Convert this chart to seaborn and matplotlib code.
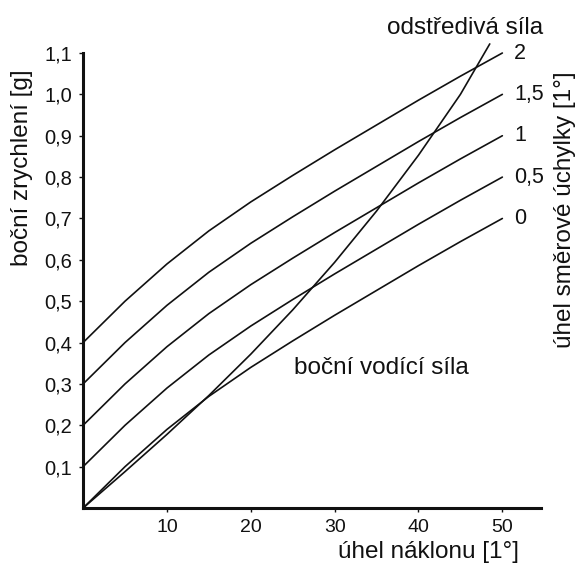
import matplotlib as mpl
mpl.use('Agg')
import numpy as np
import pandas as pd
import seaborn as sns
from matplotlib import pyplot as plt

# lean angle [deg]
ANGLES = [0, 5, 10, 15, 20, 25, 30, 35, 40, 45, 50]

# lateral guiding force for each steering deflection angle
SIDE_0 = [0.00, 0.10, 0.19, 0.27, 0.34, 0.404, 0.466, 0.526, 0.586, 0.644, 0.70]
SIDE_05 = [0.10, 0.20, 0.29, 0.37, 0.44, 0.504, 0.566, 0.626, 0.686, 0.744, 0.80]
SIDE_1 = [0.20, 0.30, 0.39, 0.47, 0.54, 0.604, 0.666, 0.726, 0.786, 0.844, 0.90]
SIDE_15 = [0.30, 0.40, 0.49, 0.57, 0.64, 0.704, 0.766, 0.826, 0.886, 0.944, 1.00]
SIDE_2 = [0.40, 0.50, 0.59, 0.67, 0.74, 0.804, 0.866, 0.926, 0.986, 1.044, 1.10]
CURVE_LABELS = ['0', '0,5', '1', '1,5', '2']

# centrifugal force
CF_ANGLES = [0, 5, 10, 15, 20, 25, 30, 35, 40, 45, 48.5]
CF_VALUES = [0.00, 0.088, 0.178, 0.272, 0.372, 0.479, 0.594, 0.718, 0.853, 1.00, 1.122]

X_TICKS = [10, 20, 30, 40, 50]
Y_TICKS = [0.1, 0.2, 0.3, 0.4, 0.5, 0.6, 0.7, 0.8, 0.9, 1.0, 1.1]


def main():
    sns.set_style('ticks')
    plt.rcParams['font.family'] = ['Liberation Sans', 'DejaVu Sans']
    for key in ['text.color', 'axes.labelcolor', 'xtick.color', 'ytick.color', 'axes.edgecolor']:
        plt.rcParams[key] = '#111111'

    rows = []
    for label, vals in zip(CURVE_LABELS, [SIDE_0, SIDE_05, SIDE_1, SIDE_15, SIDE_2]):
        for a, v in zip(ANGLES, vals):
            rows.append({'ANGLE': a, 'G': v, 'CURVE': label})
    df = pd.DataFrame(rows)
    cf = pd.DataFrame({'ANGLE': CF_ANGLES, 'G': CF_VALUES})

    fig = plt.figure(figsize=(5.81, 5.67), dpi=100)
    ax = fig.add_axes([0.143, 0.104, 0.788, 0.8025])

    sns.lineplot(data=df, x='ANGLE', y='G', hue='CURVE', palette=['#111111'] * 5,
                 linewidth=1.2, legend=False, ax=ax)
    sns.lineplot(data=cf, x='ANGLE', y='G', color='#111111', linewidth=1.2, ax=ax)
    for line in ax.lines:
        line.set_clip_on(False)

    ax.set_xlim(0, 54.6)
    ax.set_ylim(0, 1.1)
    ax.set_xticks(X_TICKS)
    ax.set_yticks(Y_TICKS)
    ax.set_xticklabels([str(t) for t in X_TICKS])
    ax.set_yticklabels([f'{t:.1f}'.replace('.', ',') for t in Y_TICKS])
    ax.tick_params(labelsize=14.5, length=3, width=1, pad=5)
    ax.tick_params(axis='x', labelsize=14, pad=5)
    sns.despine(ax=ax)
    for s in ['left', 'bottom']:
        ax.spines[s].set_linewidth(2.2)
    ax.set_xlabel('')
    ax.set_ylabel('')

    # curve labels at the right ends
    for label, vals in zip(CURVE_LABELS, [SIDE_0, SIDE_05, SIDE_1, SIDE_15, SIDE_2]):
        ax.text(51.4, vals[-1], label, fontsize=15.5, ha='left', va='center')

    ax.text(45.6, 1.16, 'odstředivá síla', fontsize=17.5, ha='center', va='center')
    ax.text(25.1, 0.339, 'boční vodící síla', fontsize=17.5, ha='left', va='center')

    fig.text(0.038, 0.705, 'boční zrychlení [g]', fontsize=17.5, rotation=90,
             ha='center', va='center')
    fig.text(0.973, 0.63, 'úhel směrové úchylky [1°]', fontsize=17.5, rotation=90,
             ha='center', va='center')
    fig.text(0.738, 0.026, 'úhel náklonu [1°]', fontsize=17.5, ha='center', va='center')

    plt.savefig('out.png', dpi=100)


main()
